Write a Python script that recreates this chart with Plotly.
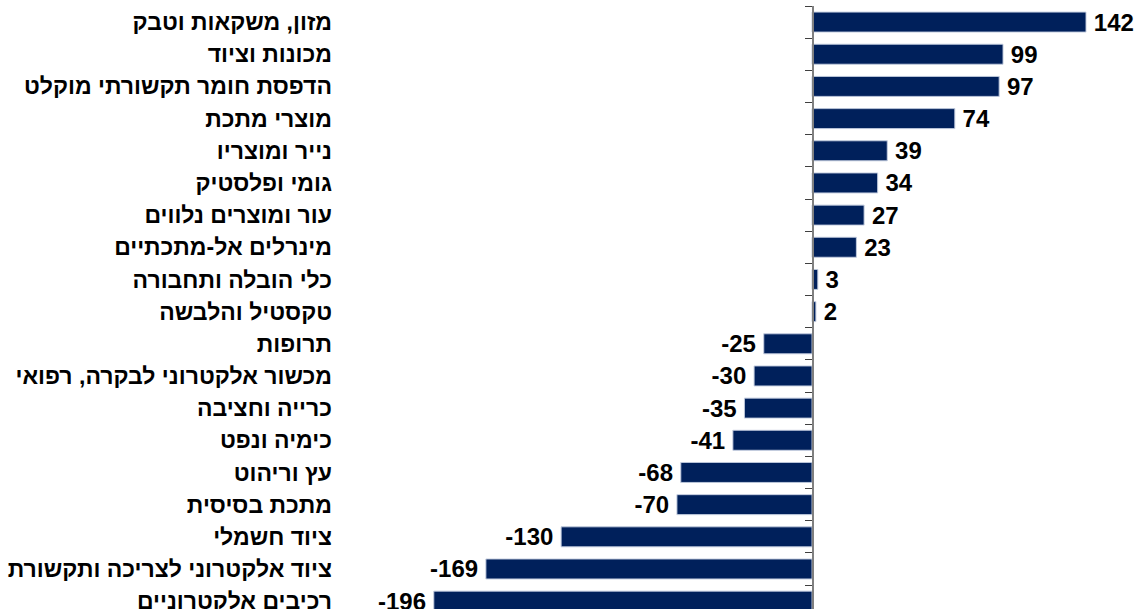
import plotly.graph_objects as go

categories = [
    "מזון, משקאות וטבק",
    "מכונות וציוד",
    "הדפסת חומר תקשורתי מוקלט",
    "מוצרי מתכת",
    "נייר ומוצריו",
    "גומי ופלסטיק",
    "עור ומוצרים נלווים",
    "מינרלים אל-מתכתיים",
    "כלי הובלה ותחבורה",
    "טקסטיל והלבשה",
    "תרופות",
    "מכשור אלקטרוני לבקרה, רפואי",
    "כרייה וחציבה",
    "כימיה ונפט",
    "עץ וריהוט",
    "מתכת בסיסית",
    "ציוד חשמלי",
    "ציוד אלקטרוני לצריכה ותקשורת",
    "רכיבים אלקטרוניים",
]
values = [142, 99, 97, 74, 39, 34, 27, 23, 3, 2, -25, -30, -35, -41, -68, -70, -130, -169, -196]

W, H = 1140, 609
left, right, top, bottom = 345, 0, 6, 0
zero_px = 812
k = 274 / 142
xmin = (left - zero_px) / k
xmax = (W - right - zero_px) / k

THIN = "\u2009"
labels = [(THIN + str(v)) if v >= 0 else (str(v) + THIN) for v in values]

fig = go.Figure()
fig.add_trace(go.Bar(
    x=values, y=categories, orientation="h",
    marker=dict(color="#00205b", line=dict(color="#9aa6c4", width=0.6)),
    text=labels, textposition="outside", constraintext="none",
    textfont=dict(family="Liberation Sans", size=24, color="black", weight="bold"),
    cliponaxis=False, hoverinfo="skip",
))
fig.add_trace(go.Bar(
    x=values, y=categories, orientation="h", yaxis="y2",
    marker=dict(color="rgba(0,0,0,0)"), hoverinfo="skip", showlegend=False,
))

pos = (zero_px - left) / (W - left - right)
yr = [-0.5 + (H - top - bottom) / 32.17, -0.5]

fig.update_layout(
    width=W, height=H,
    margin=dict(l=left, r=right, t=top, b=bottom, autoexpand=False),
    plot_bgcolor="white", paper_bgcolor="white",
    showlegend=False, bargap=0.38,
    xaxis=dict(range=[xmin, xmax], showgrid=False, zeroline=False, automargin=False,
               showticklabels=False, ticks="", fixedrange=True),
    yaxis=dict(type="category", range=yr, showgrid=False, showline=False, automargin=False,
               ticks="", ticklabelstandoff=12,
               tickfont=dict(family="Liberation Sans", size=23, color="black", weight="bold")),
    yaxis2=dict(type="category", overlaying="y", matches="y", anchor="free", automargin=False,
                position=pos, side="left", showgrid=False, showline=True,
                linecolor="#808080", linewidth=1.5, ticks="outside", ticklen=7,
                tickcolor="#404040", tickson="boundaries", showticklabels=False),
)
fig.write_html("out.html", config={"displayModeBar": False, "staticPlot": True},
               post_script="document.body.style.margin='0';document.body.style.overflow='hidden';")
